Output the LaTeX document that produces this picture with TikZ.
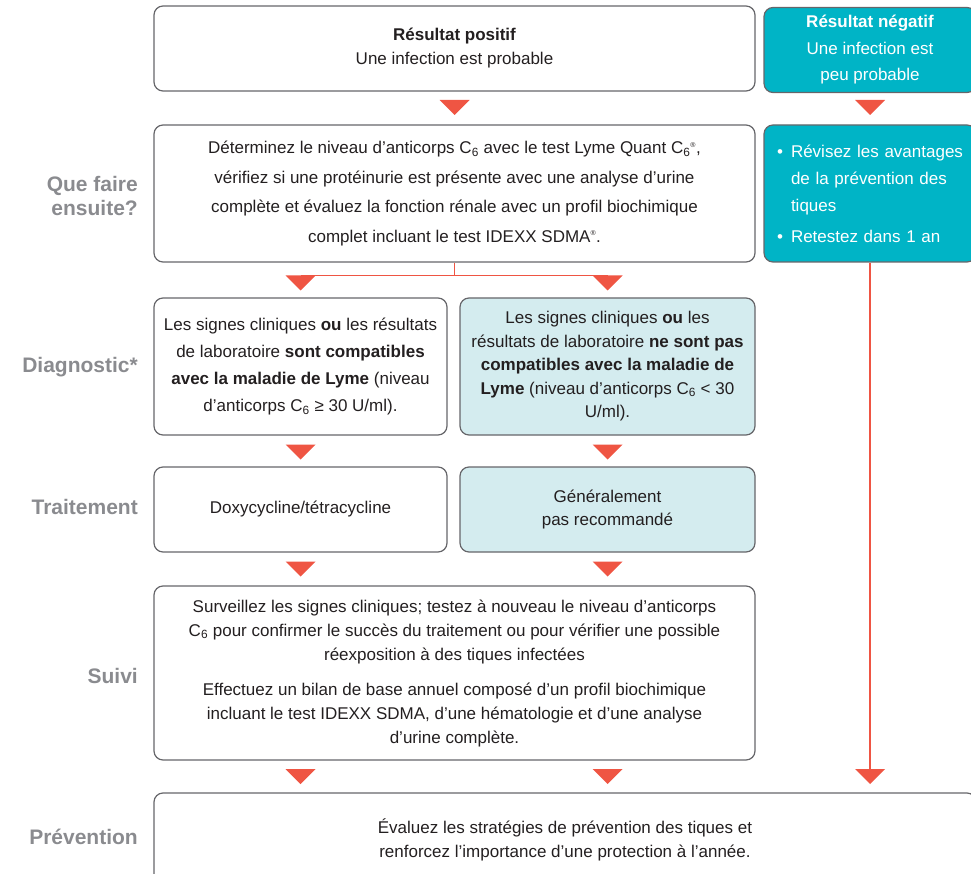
\documentclass[tikz,border=0pt]{standalone}
\usepackage{fontspec}
\setmainfont{Liberation Sans}

\definecolor{rouge}{RGB}{239,85,67}
\definecolor{sarcelle}{RGB}{0,180,198}
\definecolor{pale}{RGB}{212,236,239}
\definecolor{bord}{RGB}{102,102,106}
\definecolor{gris}{RGB}{138,139,143}
\definecolor{encre}{RGB}{35,31,32}

\newcommand{\pointe}[1]{\fill[rouge] (#1) ++(-15,0) -- ++(30,0) -- ++(-15,15) -- cycle;}
\newcommand{\sub}{C\textsubscript{6}}

\begin{document}
\begin{tikzpicture}[x=1pt, y=-1pt,
	box/.style={draw=bord, line width=1.2pt, rounded corners=9pt, align=center,
		inner sep=0pt, text=encre, font=\fontsize{17}{24}\selectfont},
	palebox/.style={box, fill=pale},
	tealbox/.style={box, fill=sarcelle, text=white},
	etiquette/.style={anchor=east, align=right, text=gris, inner sep=0pt,
		font=\fontsize{21}{23.5}\selectfont\bfseries},
	lien/.style={draw=rouge, line width=1.3pt}]

	\useasboundingbox (0,0) rectangle (971,874);
	\clip (0,0) rectangle (971,874);

	% === LABELS === (((
	\node[etiquette] (ensuite) at (138,196) {Que faire\\ensuite?};
	\node[etiquette] (diag) at (138,367) {Diagnostic*};
	\node[etiquette] (trait) at (138,507) {Traitement};
	\node[etiquette] (suiv) at (138,676) {Suivi};
	\node[etiquette] (prevl) at (138,837) {Prévention};
	% )))

	% === NODES === (((
	\node[box, minimum width=601pt, minimum height=85pt] (positif) at (454.5,48.5)
		{\textbf{Résultat positif}\\Une infection est probable};
	\node[tealbox, minimum width=212pt, minimum height=85pt,
		font=\fontsize{17}{26.5}\selectfont] (negatif) at (870,50)
		{\textbf{Résultat négatif}\\Une infection est\\peu probable};

	\node[box, minimum width=601pt, minimum height=137pt,
		font=\fontsize{17}{29.5}\selectfont] (det) at (454.5,193.5)
		{Déterminez le niveau d’anticorps \sub{} avec le test Lyme Quant \sub\textsuperscript{\scriptsize®},\\
		vérifiez si une protéinurie est présente avec une analyse d’urine\\
		complète et évaluez la fonction rénale avec un profil biochimique\\
		complet incluant le test IDEXX SDMA\textsuperscript{\scriptsize®}.};
	\node[tealbox, align=left, text width=186pt, inner xsep=13pt, minimum height=137pt,
		font=\fontsize{17}{27}\selectfont] (conseil) at (870,193.5)
		{\makebox[14pt][l]{\textbullet}Révisez les avantages\\
		\hspace*{14pt}de la prévention des\\
		\hspace*{14pt}tiques\\[4pt]
		\makebox[14pt][l]{\textbullet}Retestez dans 1 an};

	\node[box, minimum width=293pt, minimum height=137pt,
		font=\fontsize{17}{27}\selectfont] (compat) at (300.5,366.5)
		{Les signes cliniques \textbf{ou} les résultats\\
		de laboratoire \textbf{sont compatibles}\\
		\textbf{avec la maladie de Lyme} (niveau\\
		d’anticorps \sub{} ≥ 30 U/ml).};
	\node[palebox, minimum width=295pt, minimum height=137pt,
		font=\fontsize{17}{23.5}\selectfont] (noncompat) at (607.5,366.5)
		{Les signes cliniques \textbf{ou} les\\
		résultats de laboratoire \textbf{ne sont pas}\\
		\textbf{compatibles avec la maladie de}\\
		\textbf{Lyme} (niveau d’anticorps \sub{} < 30\\
		U/ml).};

	\node[box, minimum width=293pt, minimum height=85pt] (doxy) at (300.5,509.5)
		{Doxycycline/tétracycline};
	\node[palebox, minimum width=295pt, minimum height=85pt,
		font=\fontsize{17}{23}\selectfont] (genrec) at (607.5,509.5)
		{Généralement\\pas recommandé};

	\node[box, minimum width=601pt, minimum height=174pt] (suivi) at (454.5,673)
		{Surveillez les signes cliniques; testez à nouveau le niveau d’anticorps\\
		\sub{} pour confirmer le succès du traitement ou pour vérifier une possible\\
		réexposition à des tiques infectées\\[11pt]
		Effectuez un bilan de base annuel composé d’un profil biochimique\\
		incluant le test IDEXX SDMA, d’une hématologie et d’une analyse\\
		d’urine complète.};

	\node[box, minimum width=822pt, minimum height=94pt] (prev) at (565,840)
		{Évaluez les stratégies de prévention des tiques et\\
		renforcez l’importance d’une protection à l’année.};
	% )))

	% === LINES === (((
	\coordinate (p1) at (454.5,100);
	\coordinate (p2) at (870,100);
	\coordinate (p3) at (300.5,275.5);
	\coordinate (p4) at (607.5,275.5);
	\coordinate (p5) at (300.5,444.5);
	\coordinate (p6) at (607.5,444.5);
	\coordinate (p7) at (300.5,561.5);
	\coordinate (p8) at (607.5,561.5);
	\coordinate (p9) at (300.5,769);
	\coordinate (p10) at (607.5,769);
	\coordinate (p11) at (870,769);

	\draw[lien] (det.south) -- (det.south |- p3);
	\draw[lien] (p3) -- (p4);
	\draw[lien] (conseil.south) -- (p11);

	\pointe{p1} \pointe{p2}
	\pointe{p3} \pointe{p4}
	\pointe{p5} \pointe{p6}
	\pointe{p7} \pointe{p8}
	\pointe{p9} \pointe{p10} \pointe{p11}
	% )))

\end{tikzpicture}
\end{document}
